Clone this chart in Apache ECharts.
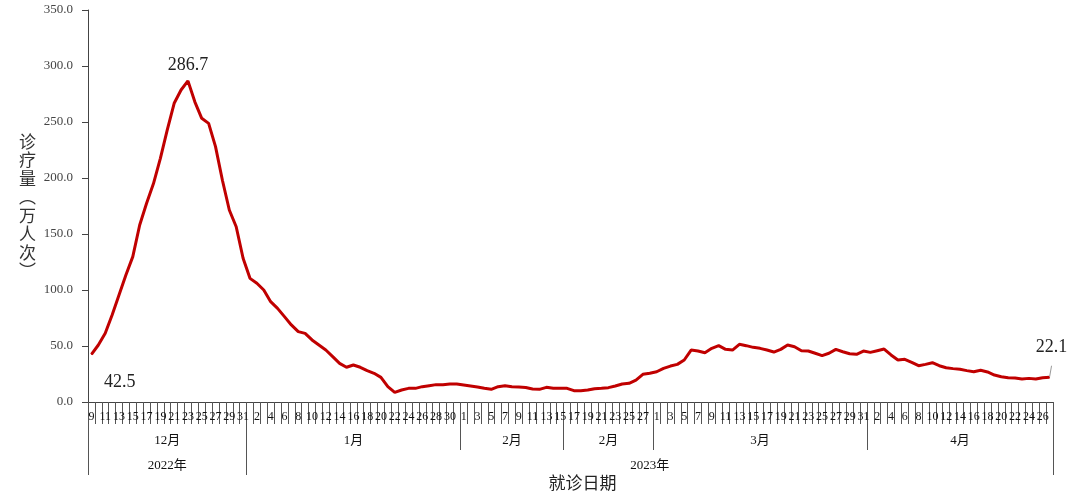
<!DOCTYPE html>
<html><head><meta charset="utf-8">
<script src="https://cdn.jsdelivr.net/npm/echarts@6/dist/echarts.min.js"></script>
<style>html,body{margin:0;padding:0;background:#fff}#c{width:1080px;height:492px}</style>
</head><body><div id="c"></div>
<script>
// Segments of the date axis (month label, year, first day, last day)
const segMonthLabels = ['12月', '1月', '2月', '2月', '3月', '4月'];
const segMonthNums   = [12, 1, 2, 2, 3, 4];
const segYears       = [2022, 2023, 2023, 2023, 2023, 2023];
const segFirstDay    = [9, 1, 1, 16, 1, 1];
const segLastDay     = [31, 31, 15, 28, 31, 27];
const yearLabels     = ['2022年', '2023年'];
const yAxisTicks     = [0, 50, 100, 150, 200, 250, 300, 350];

// daily visits (10k person-times)
const decValues = [42.5, 50.9, 61.3, 77.7, 95.5, 113.4, 129.8, 158.0, 177.4, 195.0, 217.6, 242.9, 266.7, 278.6, 286.7, 268.0, 253.3, 248.8, 228.0, 198.0, 171.4, 156.5, 128.3];
const janValues = [110.4, 106.0, 100.0, 89.6, 83.6, 76.2, 68.8, 62.8, 61.3, 55.4, 50.9, 46.4, 40.5, 34.5, 31.0, 33.0, 31.0, 28.0, 25.6, 22.0, 13.7, 8.6, 10.7, 12.2, 12.2, 13.7, 14.6, 15.5, 15.5, 16.1, 16.1];
const febValues = [15.2, 14.3, 13.4, 12.2, 11.3, 13.7, 14.6, 13.7, 13.4, 13.0, 11.6, 11.3, 13.1, 12.2, 12.2, 12.2, 10.1, 10.1, 10.7, 11.9, 12.2, 12.8, 14.3, 16.1, 16.7, 19.6, 24.7, 25.6];
const marValues = [27.0, 30.0, 32.1, 33.6, 37.5, 46.4, 45.5, 44.0, 47.9, 50.3, 47.0, 46.4, 51.5, 50.3, 48.8, 47.9, 46.4, 44.6, 47.0, 50.9, 49.4, 45.8, 45.5, 43.5, 41.4, 43.5, 47.0, 44.9, 43.1, 42.6, 45.5];
const aprValues = [44.3, 45.8, 47.3, 42.0, 37.5, 38.1, 35.4, 32.4, 33.6, 35.1, 32.4, 30.6, 29.8, 29.2, 28.0, 27.0, 28.3, 26.8, 24.1, 22.6, 21.7, 21.4, 20.5, 21.1, 20.5, 21.7, 22.1];
const labeledDates = ['2022-12-09', '2022-12-23', '2023-04-27'];

// ---- build categories ----
const categories = [], dayOf = [], monthStartIdx = [], monthMidIdx = {}, yearStartIdx = [], yearMidIdx = {};
let lastYear = null;
segMonthLabels.forEach((lab, s) => {
  const start = categories.length;
  for (let d = segFirstDay[s]; d <= segLastDay[s]; d++) {
    categories.push(segYears[s] + '-' + String(segMonthNums[s]).padStart(2, '0') + '-' + String(d).padStart(2, '0'));
    dayOf.push(d);
  }
  monthStartIdx.push(start);
  monthMidIdx[Math.floor((start + categories.length - 1) / 2)] = lab;
});
segYears.forEach((y, s) => { if (y !== lastYear) { yearStartIdx.push(monthStartIdx[s]); lastYear = y; } });
yearStartIdx.forEach((st, k) => {
  const end = k + 1 < yearStartIdx.length ? yearStartIdx[k + 1] : categories.length;
  yearMidIdx[Math.floor((st + end - 1) / 2)] = yearLabels[k];
});
const values = [].concat(decValues, janValues, febValues, marValues, aprValues);

const seriesData = values.map((v, i) => {
  const k = labeledDates.indexOf(categories[i]);
  if (k < 0) return v;
  const item = { value: v, symbol: 'circle', symbolSize: 1, label: { show: true, formatter: (p) => p.value.toFixed(1) } };
  if (k === 0) item.label = Object.assign(item.label, { position: 'right', offset: [7, 28] });
  if (k === 1) item.label = Object.assign(item.label, { position: 'top', distance: 6 });
  if (k === 2) {
    item.label = Object.assign(item.label, { position: 'top', distance: 20, offset: [2, 0] });
    item.labelLine = { show: true, lineStyle: { color: '#999', width: 1 } };
  }
  return item;
});

const serif = "'Liberation Serif', 'Noto Sans CJK SC', serif";
const chart = echarts.init(document.getElementById('c'), null, { renderer: 'canvas' });
chart.setOption({
  animation: false,
  backgroundColor: '#fff',
  grid: { left: 88, right: 27, top: 10, bottom: 90, containLabel: false, outerBoundsMode: 'none' },
  xAxis: [
    {
      type: 'category', data: categories, position: 'bottom', boundaryGap: true,
      axisLine: { lineStyle: { color: '#444', width: 1 } },
      axisTick: { show: true, interval: 0, length: 22, lineStyle: { color: '#555' } },
      axisLabel: { interval: 1, formatter: (v, i) => String(dayOf[i]), fontSize: 12, margin: 9, color: '#111', fontFamily: serif },
      splitLine: { show: false }
    },
    {
      type: 'category', data: categories, position: 'bottom', boundaryGap: true,
      axisLine: { show: false },
      axisTick: { show: true, interval: (i) => monthStartIdx.indexOf(i) >= 0, length: 48, lineStyle: { color: '#555' } },
      axisLabel: { interval: (i) => monthMidIdx[i] !== undefined, formatter: (v, i) => monthMidIdx[i] || '', fontSize: 13, margin: 32, color: '#111', fontFamily: serif },
      splitLine: { show: false }
    },
    {
      type: 'category', data: categories, position: 'bottom', boundaryGap: true,
      axisLine: { show: false },
      axisTick: { show: true, interval: (i) => yearStartIdx.indexOf(i) >= 0, length: 73, lineStyle: { color: '#555' } },
      axisLabel: { interval: (i) => yearMidIdx[i] !== undefined, formatter: (v, i) => yearMidIdx[i] || '', fontSize: 13, margin: 57, color: '#111', fontFamily: serif },
      name: '就诊日期', nameLocation: 'middle', nameGap: 72, nameMoveOverlap: false,
      nameTextStyle: { fontSize: 17, color: '#222', fontFamily: "'Noto Sans CJK SC', sans-serif", padding: [0, 0, 0, 24] },
      splitLine: { show: false }
    }
  ],
  yAxis: {
    type: 'value', min: yAxisTicks[0], max: yAxisTicks[yAxisTicks.length - 1], interval: 50,
    axisLine: { show: true, lineStyle: { color: '#444', width: 1 } },
    axisTick: { show: true, length: 6, lineStyle: { color: '#444' } },
    axisLabel: { formatter: (v) => v.toFixed(1), fontSize: 13, color: '#444', margin: 15, fontFamily: serif },
    splitLine: { show: false },
    name: '诊\n疗\n量\n︵\n万\n人\n次\n︶', nameLocation: 'middle', nameRotate: 0, nameGap: 52,
    nameTextStyle: { fontSize: 17, lineHeight: 18.5, color: '#333', fontFamily: "'Noto Sans CJK SC', sans-serif" }
  },
  series: [{
    type: 'line', data: seriesData, xAxisIndex: 0, yAxisIndex: 0,
    symbol: 'none', showSymbol: true, showAllSymbol: true, smooth: false,
    lineStyle: { color: '#C00000', width: 3 },
    itemStyle: { color: '#C00000' },
    label: { show: false, fontSize: 18, color: '#222', fontFamily: serif },
    labelLine: { show: false, lineStyle: { color: '#999', width: 1 } },
    emphasis: { disabled: true }
  }]
});
</script></body></html>
